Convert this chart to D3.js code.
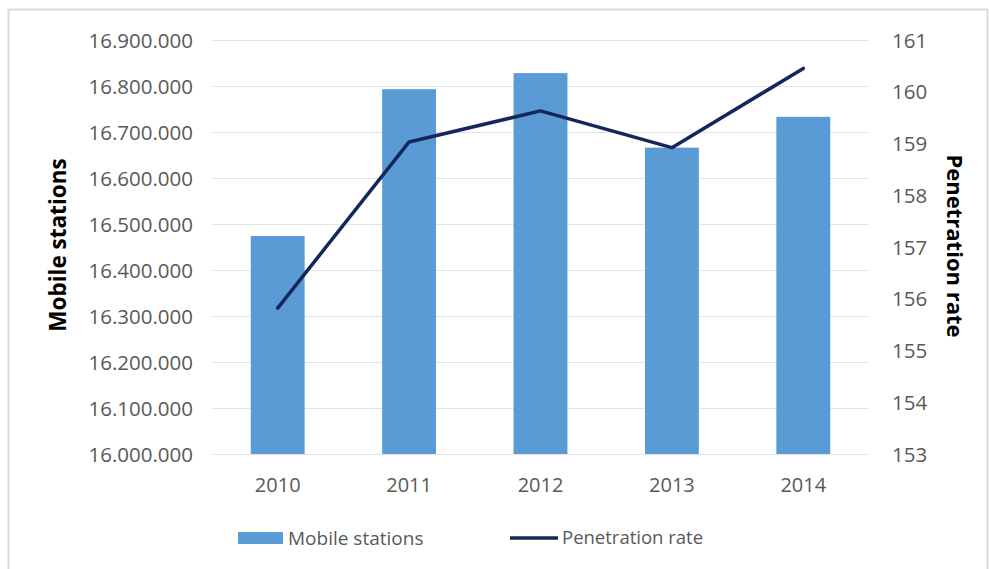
<!DOCTYPE html>
<html>
<head>
<meta charset="utf-8">
<script src="https://cdn.jsdelivr.net/npm/d3@7"></script>
<style>
  body { margin: 0; background: #fff; }
  text { font-family: "Open Sans", "Liberation Sans", sans-serif; }
</style>
</head>
<body>
<svg id="chart" width="989" height="569"></svg>
<script>
// chart values
var years = ["2010", "2011", "2012", "2013", "2014"];
var stations = [16474000, 16793000, 16828000, 16666000, 16733000];
var penetration = [155.82, 159.03, 159.63, 158.92, 160.45];
var leftTicks = [16000000, 16100000, 16200000, 16300000, 16400000, 16500000, 16600000, 16700000, 16800000, 16900000];
var rightTicks = [153, 154, 155, 156, 157, 158, 159, 160, 161];

var svg = d3.select("#chart");

// outer frame
svg.append("rect")
    .attr("x", 8.5)
    .attr("y", 9.5)
    .attr("width", 979)
    .attr("height", 570)
    .attr("fill", "none")
    .attr("stroke", "#d9d9d9")
    .attr("stroke-width", 2);

var plotLeft = 212, plotRight = 869, plotTop = 40, plotBottom = 454;

var x = d3.scaleBand()
    .domain(years)
    .range([plotLeft, plotRight])
    .paddingInner(0.59)
    .paddingOuter(0.295);

var yLeft = d3.scaleLinear()
    .domain([16000000, 16900000])
    .range([plotBottom, plotTop]);

var yRight = d3.scaleLinear()
    .domain([153, 161])
    .range([plotBottom, plotTop]);

var fmt = function (d) {
    return d3.format(",")(d).replace(/,/g, ".");
};

// gridlines
svg.append("g")
    .selectAll("line")
    .data(leftTicks)
    .join("line")
    .attr("x1", plotLeft)
    .attr("x2", plotRight)
    .attr("y1", function (d) { return yLeft(d) + 0.5; })
    .attr("y2", function (d) { return yLeft(d) + 0.5; })
    .attr("stroke", "#e3e3e3")
    .attr("stroke-width", 1);

// left axis
var leftAxis = svg.append("g")
    .attr("transform", "translate(" + (plotLeft - 19) + ",0)")
    .call(d3.axisLeft(yLeft).tickValues(leftTicks).tickFormat(fmt).tickSize(0).tickPadding(0));
leftAxis.select(".domain").remove();
leftAxis.selectAll("text")
    .attr("fill", "#595959")
    .style("font-size", "20.5px")
    .attr("dy", "0.35em");

// right axis
var rightAxis = svg.append("g")
    .attr("transform", "translate(" + (plotRight + 23) + ",0)")
    .call(d3.axisRight(yRight).tickValues(rightTicks).tickSize(0).tickPadding(0));
rightAxis.select(".domain").remove();
rightAxis.selectAll("text")
    .attr("fill", "#595959")
    .style("font-size", "20.5px")
    .attr("dy", "0.35em");

// x axis
var xAxis = svg.append("g")
    .attr("transform", "translate(0," + plotBottom + ")")
    .call(d3.axisBottom(x).tickSize(0).tickPadding(24));
xAxis.select(".domain").remove();
xAxis.selectAll("text")
    .attr("fill", "#595959")
    .style("font-size", "20px");

// bars
svg.append("g")
    .selectAll("rect")
    .data(years)
    .join("rect")
    .attr("x", function (d) { return x(d); })
    .attr("y", function (d, i) { return yLeft(stations[i]); })
    .attr("width", x.bandwidth())
    .attr("height", function (d, i) { return plotBottom - yLeft(stations[i]); })
    .attr("fill", "#5b9bd5");

// line
var line = d3.line()
    .x(function (d, i) { return x(years[i]) + x.bandwidth() / 2; })
    .y(function (d) { return yRight(d); });

svg.append("path")
    .datum(penetration)
    .attr("d", line)
    .attr("fill", "none")
    .attr("stroke", "#14275a")
    .attr("stroke-width", 3.5)
    .attr("stroke-linejoin", "round")
    .attr("stroke-linecap", "round");

// axis titles
svg.append("text")
    .attr("transform", "translate(66,245) rotate(-90)")
    .attr("text-anchor", "middle")
    .style("font-size", "22.5px")
    .style("font-weight", "bold")
    .attr("fill", "#000")
    .text("Mobile stations");

svg.append("text")
    .attr("transform", "translate(947,246) rotate(90)")
    .attr("text-anchor", "middle")
    .style("font-size", "22px")
    .style("font-weight", "bold")
    .attr("fill", "#000")
    .text("Penetration rate");

// legend
var legend = svg.append("g");
legend.append("rect")
    .attr("x", 238)
    .attr("y", 532)
    .attr("width", 45)
    .attr("height", 12)
    .attr("fill", "#5b9bd5");
legend.append("text")
    .attr("x", 288)
    .attr("y", 538)
    .attr("dy", "0.35em")
    .attr("fill", "#595959")
    .style("font-size", "19px")
    .text("Mobile stations");
legend.append("line")
    .attr("x1", 510)
    .attr("x2", 558)
    .attr("y1", 538)
    .attr("y2", 538)
    .attr("stroke", "#14275a")
    .attr("stroke-width", 3.5);
legend.append("text")
    .attr("x", 562)
    .attr("y", 538)
    .attr("dy", "0.35em")
    .attr("fill", "#595959")
    .style("font-size", "18.5px")
    .text("Penetration rate");
</script>
</body>
</html>
